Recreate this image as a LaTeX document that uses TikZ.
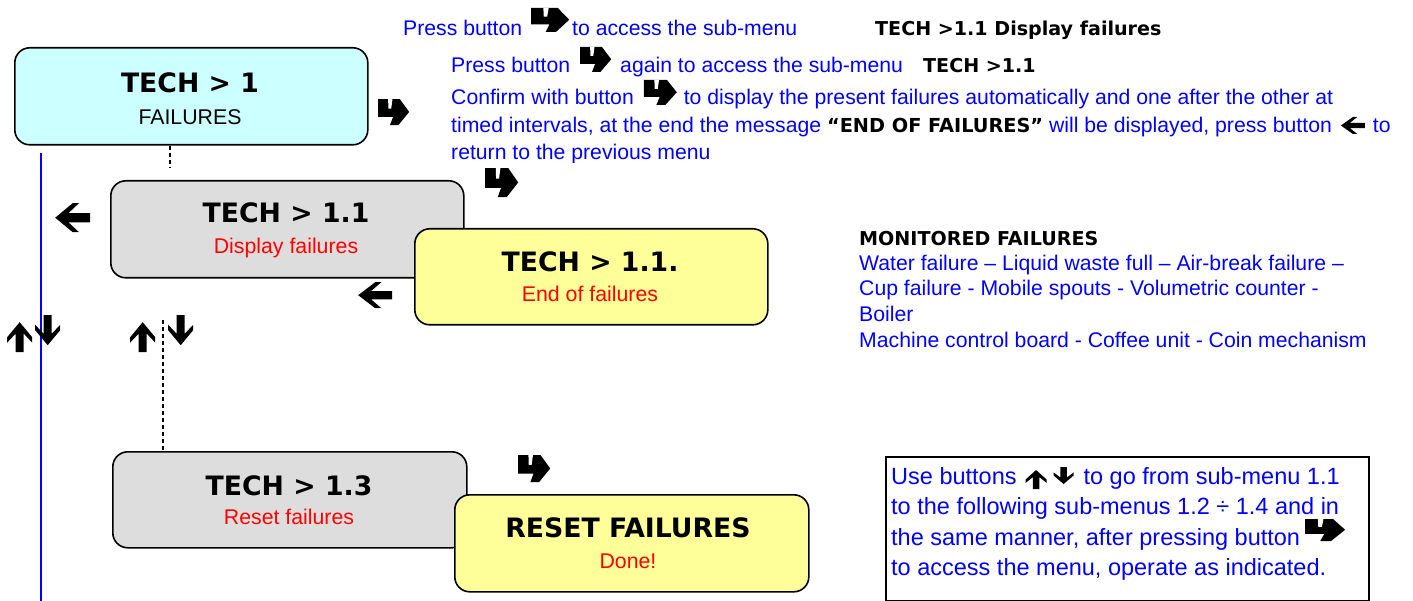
\documentclass[tikz,border=0pt]{standalone}
\usepackage{fontspec}
\setmainfont{Liberation Sans}
\newfontfamily\dvs{DejaVu Sans}
\definecolor{tblue}{RGB}{0,0,255}
\definecolor{tred}{RGB}{255,0,0}
\definecolor{cyanfill}{RGB}{204,255,255}
\definecolor{grayfill}{RGB}{221,221,221}
\definecolor{yelfill}{RGB}{255,255,153}

\newcommand{\entico}[3]{\raisebox{#3pt}{\tikz[x=#1pt,y=#2pt]{\fill[black] (0,1)--(0.7,1)--(1,0.51)--(0.65,0)--(0.38,0)--(0.48,0.32)--(0,0.32)--cycle; \fill[white] (0.32,1)--(0.46,1)--(0.42,0.64)--(0.33,0.64)--cycle;}}}
\newcommand{\leftico}[3]{\raisebox{#3pt}{\tikz[x=#1pt,y=#2pt]{\fill[black] (0,0.5)--(0.5,1)--(0.68,1)--(0.38,0.66)--(1,0.66)--(1,0.34)--(0.38,0.34)--(0.68,0)--(0.5,0)--cycle;}}}
\newcommand{\upico}[3]{\raisebox{#3pt}{\tikz[x=#1pt,y=#2pt]{\fill[black] (0.5,1)--(1,0.5)--(1,0.32)--(0.66,0.62)--(0.66,0)--(0.34,0)--(0.34,0.62)--(0,0.32)--(0,0.5)--cycle;}}}
\newcommand{\downico}[3]{\raisebox{#3pt}{\tikz[x=#1pt,y=#2pt]{\fill[black] (0.5,0)--(1,0.5)--(1,0.68)--(0.66,0.38)--(0.66,1)--(0.34,1)--(0.34,0.38)--(0,0.68)--(0,0.5)--cycle;}}}
\newcommand{\bb}{\dvs\bfseries\fontsize{19.3}{23}\selectfont\color{black}}

\tikzset{
  menubox/.style={draw=black, line width=1.6pt, rounded corners=15pt, inner sep=0pt, anchor=north west},
  ttl/.style={font=\dvs\bfseries\fontsize{26.7}{30}\selectfont, anchor=base, inner sep=0pt},
  sub/.style={font=\fontsize{21.3}{25}\selectfont, anchor=base, inner sep=0pt},
  btxt/.style={text=tblue, font=\fontsize{21.2}{25}\selectfont, anchor=base west, inner sep=0pt},
  notetxt/.style={btxt, font=\fontsize{23.5}{28}\selectfont},
  boldtxt/.style={font=\dvs\bfseries\fontsize{19.1}{23}\selectfont, anchor=base west, inner sep=0pt},
  iconnode/.style={inner sep=0pt, anchor=north west},
  dashline/.style={dash pattern=on 4pt off 3pt, line width=1.3pt},
}

\begin{document}
\begin{tikzpicture}[x=1pt,y=-1pt]
\useasboundingbox (0,0) rectangle (1413,601);

% blue vertical line
\coordinate (vt) at (41,153);
\coordinate (vb) at (41,601);
\draw[tblue, line width=2pt] (vt) -- (vb);

% menu boxes
\node[menubox, fill=cyanfill, minimum width=353pt, minimum height=97pt] (b1) at (14,47) {};
\node[menubox, fill=grayfill, minimum width=353pt, minimum height=97pt] (b11) at (110,180) {};
\node[menubox, fill=yelfill, minimum width=353pt, minimum height=96pt] (b111) at (414,228) {};
\node[menubox, fill=grayfill, minimum width=354pt, minimum height=96pt] (b13) at (112,451) {};
\node[menubox, fill=yelfill, minimum width=354pt, minimum height=97pt] (brs) at (454,494) {};

% box texts
\node[ttl] (t1) at (190,93) {TECH > 1};
\node[sub] (s1) at (190,125) {FAILURES};
\node[ttl] (t11) at (286,223) {TECH > 1.1};
\node[sub, text=tred] (s11) at (286,254) {Display failures};
\node[ttl] (t111) at (590,272) {TECH > 1.1.};
\node[sub, text=tred] (s111) at (590,302) {End of failures};
\node[ttl] (t13) at (289,495) {TECH > 1.3};
\node[sub, text=tred] (s13) at (289,524) {Reset failures};
\node[ttl] (trs) at (628,537) {RESET FAILURES};
\node[sub, text=tred] (srs) at (628,568) {Done!};

% dashed connectors
\coordinate (d1) at (170,167);
\draw[dashline] (b1.south -| d1) -- (d1);
\coordinate (d2) at (163,320);
\draw[dashline] (d2) -- (d2 |- b13.north);

% standalone icons
\node[iconnode] (e1) at (378,99) {\entico{31}{26}{0}};
\node[iconnode] (e2) at (485,168) {\entico{33}{29}{0}};
\node[iconnode] (e3) at (518,455) {\entico{32}{27}{0}};
\node[iconnode] (l1) at (55,203) {\leftico{35}{29}{0}};
\node[iconnode] (l2) at (358,282) {\leftico{34}{26}{0}};
\node[iconnode] (u1) at (7,322) {\upico{25}{30}{0}};
\node[iconnode] (dn1) at (35,315) {\downico{25}{30}{0}};
\node[iconnode] (u2) at (130,322) {\upico{25}{30}{0}};
\node[iconnode] (dn2) at (168,315) {\downico{25}{30}{0}};

% top instructions
\node[btxt] (p1) at (403,36) {Press button\hspace{9pt}\entico{38}{24}{4}\hspace{3pt}to access the sub-menu};
\node[boldtxt] (p1b) at (875,36) {TECH >1.1 Display failures};
\node[btxt] (p2) at (451,73) {Press button\hspace{10pt}\entico{31}{25}{1}\hspace{9pt}again to access the sub-menu};
\node[boldtxt] (p2b) at (923,73) {TECH >1.1};
\node[btxt] (p3) at (451,105) {Confirm with button\hspace{10pt}\entico{33}{25}{0}\hspace{7pt}to display the present failures automatically and one after the other at};
\node[btxt] (p4) at (451,133) {timed intervals, at the end the message {\bb “END OF FAILURES”} will be displayed, press button\hspace{9pt}\leftico{24}{17}{-1}\hspace{8pt}to};
\begin{scope}
\clip (440,140) rectangle (1413,163);
\node[btxt] (p5) at (451,160) {return to the previous menu};
\end{scope}

% monitored failures
\node[boldtxt] (m0) at (859,246) {MONITORED FAILURES};
\node[btxt] (m1) at (859,271) {Water failure – Liquid waste full – Air-break failure –};
\node[btxt] (m2) at (859,296) {Cup failure - Mobile spouts - Volumetric counter -};
\node[btxt] (m3) at (859,322) {Boiler};
\node[btxt] (m4) at (859,348) {Machine control board - Coffee unit - Coin mechanism};

% note box
\node[draw=black, line width=2pt, minimum width=483pt, minimum height=144pt, anchor=north west, inner sep=0pt] (note) at (885,456) {};
\node[notetxt] (n1) at (891,484) {Use buttons\hspace{9pt}\upico{21}{19}{-5}\hspace{7pt}\downico{20}{17}{0}\hspace{10pt}to go from sub-menu 1.1};
\node[notetxt] (n2) at (891,514) {to the following sub-menus 1.2 ÷ 1.4 and in};
\node[notetxt] (n3) at (891,545) {the same manner, after pressing button\hspace{5pt}\entico{40}{22}{4}};
\node[notetxt] (n4) at (891,575) {to access the menu, operate as indicated.};
\end{tikzpicture}
\end{document}
